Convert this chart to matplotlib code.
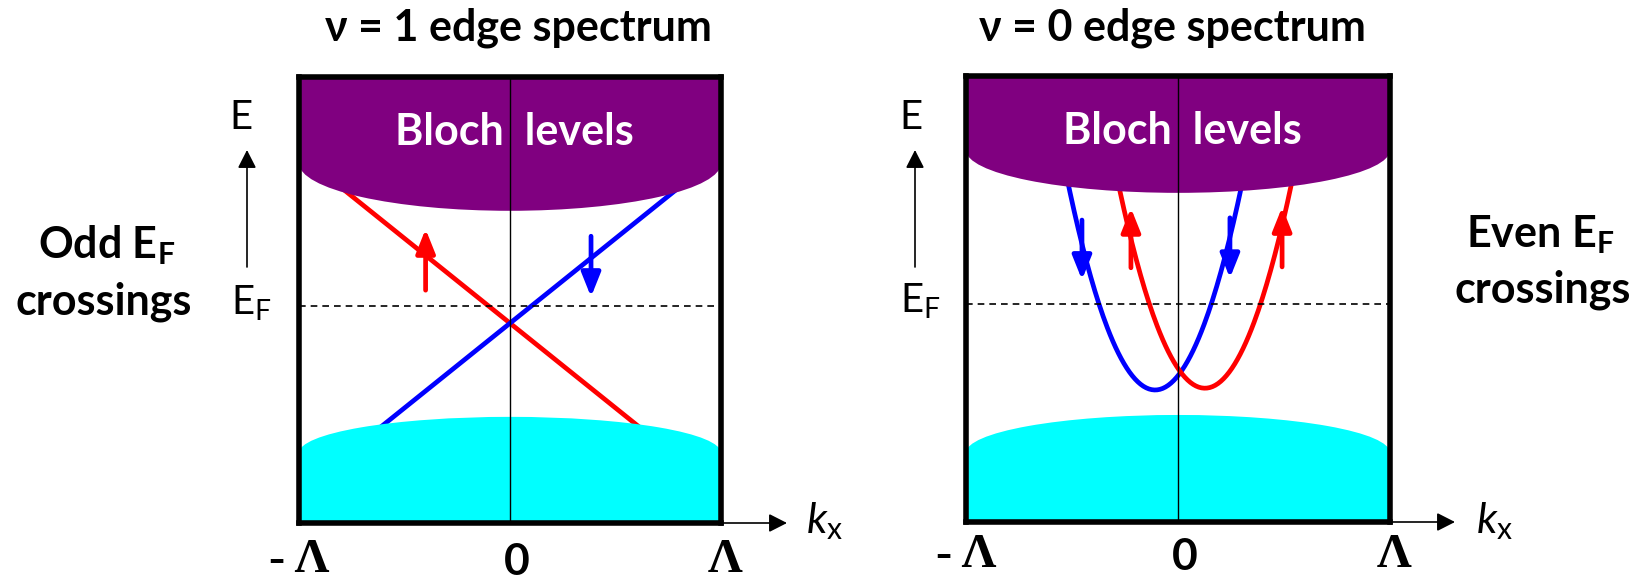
import numpy as np
import matplotlib
matplotlib.use("Agg")
import matplotlib.pyplot as plt
from matplotlib.patches import Rectangle, Ellipse
from matplotlib.transforms import blended_transform_factory

plt.rcParams['font.family'] = ['Lato', 'DejaVu Sans']
plt.rcParams['mathtext.fontset'] = 'custom'
plt.rcParams['mathtext.rm'] = 'Lato'
plt.rcParams['mathtext.it'] = 'Lato:italic'
plt.rcParams['mathtext.bf'] = 'Lato:bold'

# ---- data (k in units of Lambda, E in box-height units) ----
titles = ['\u03bd = 1 edge spectrum', '\u03bd = 0 edge spectrum']
side_top = [r'Odd E$_\mathbf{F}$', r'Even E$_\mathbf{F}$']
side_bottom = ['crossings', 'crossings']
tick_labels = ['- \u039b', '0', '\u039b']
tick_k = [-1, 0, 1]
e_fermi = [0.487, 0.489]

# Bloch (purple) band: flat-edge level and sag depth at k=0
bloch_edge = [0.807, 0.834]
bloch_sag = [0.107, 0.096]
# lower (cyan) band: edge level and bulge height at k=0
low_edge = [0.157, 0.155]
low_bulge = [0.081, 0.085]

# nu = 1 : linear chiral branches
lin_k = [-1.0, 1.0]
red_lin_E = [0.828, 0.068]
blue_lin_E = [0.068, 0.828]
# spin arrows (k, E_tail, E_tip, colour)
arrows_1 = [(-0.40, 0.522, 0.659, 'red'), (0.384, 0.643, 0.507, 'blue')]

# nu = 0 : two shifted parabolas (vertex k, vertex E, curvature)
blue_par = (-0.108, 0.296, 2.75)
red_par = (0.127, 0.300, 2.75)
arrows_0 = [(-0.453, 0.677, 0.543, 'blue'), (-0.222, 0.570, 0.704, 'red'),
            (0.245, 0.682, 0.547, 'blue'), (0.491, 0.572, 0.706, 'red')]

W, H = 1641, 583


def fx(x):
    return x / W


def fy(y):
    return 1 - y / H


fig = plt.figure(figsize=(W / 100, H / 100), dpi=100)

boxes = [(299, 721, 77, 523), (966, 1390, 76, 522)]
axes = []
for i, (x0, x1, y0, y1) in enumerate(boxes):
    ax = fig.add_axes([fx(x0), fy(y1), (x1 - x0) / W, (y1 - y0) / H])
    ax.set_xlim(-1, 1)
    ax.set_ylim(0, 1)
    ax.set_xticks([])
    ax.set_yticks([])
    for s in ax.spines.values():
        s.set_linewidth(4)
        s.set_zorder(6)
    # purple Bloch levels
    ax.add_patch(Rectangle((-1, bloch_edge[i]), 2, 1 - bloch_edge[i], color='#800080', lw=0, zorder=2))
    ax.add_patch(Ellipse((0, bloch_edge[i]), 2, 2 * bloch_sag[i], color='#800080', lw=0, zorder=2))
    # cyan lower levels
    ax.add_patch(Rectangle((-1, 0), 2, low_edge[i], color='#00FFFF', lw=0, zorder=2))
    ax.add_patch(Ellipse((0, low_edge[i]), 2, 2 * low_bulge[i], color='#00FFFF', lw=0, zorder=2))
    ax.axvline(0, color='black', lw=1.0, zorder=3)
    ax.axhline(e_fermi[i], color='black', lw=1.2, ls=(0, (4, 3)), zorder=3)
    ax.text(0.02, 0.848, 'Bloch  levels', color='white', fontsize=31,
            fontweight='bold', ha='center', va='baseline', zorder=5)
    axes.append(ax)

ax1, ax0 = axes

# nu = 1 branches
ax1.plot(lin_k, red_lin_E, color='red', lw=3.4, zorder=1, solid_capstyle='butt')
ax1.plot(lin_k, blue_lin_E, color='blue', lw=3.4, zorder=1, solid_capstyle='butt')

# nu = 0 parabolas
for (k0, e0, a), c in [(blue_par, 'blue'), (red_par, 'red')]:
    kk = np.linspace(k0 - 0.65, k0 + 0.65, 200)
    ax0.plot(kk, e0 + a * (kk - k0) ** 2, color=c, lw=3.4, zorder=1)

for ax, arrs in [(ax1, arrows_1), (ax0, arrows_0)]:
    for k, e_tail, e_tip, c in arrs:
        ax.annotate('', xy=(k, e_tip), xytext=(k, e_tail),
                    arrowprops=dict(arrowstyle='-|>,head_length=0.45,head_width=0.18',
                                    mutation_scale=32, color=c, lw=3.4,
                                    shrinkA=0, shrinkB=0), zorder=4)

# titles
fig.text(fx(518), fy(40), titles[0], fontsize=31, fontweight='bold', ha='center', va='baseline')
fig.text(fx(1172), fy(40), titles[1], fontsize=31, fontweight='bold', ha='center', va='baseline')

# energy axis labels
for ex, ax_x, ef_x, ef_y in [(241, 247, 231, 315), (911, 915, 900, 313)]:
    fig.text(fx(ex), fy(129), 'E', fontsize=29, ha='center', va='baseline')
    fig.text(fx(ef_x), fy(ef_y), r'E$_\mathrm{F}$', fontsize=29, ha='left', va='baseline')
    fig.add_artist(plt.Annotation('', xy=(fx(ax_x), fy(150)), xytext=(fx(ax_x), fy(267)),
                                  xycoords='figure fraction', textcoords='figure fraction',
                                  arrowprops=dict(arrowstyle='-|>,head_length=0.55,head_width=0.28',
                                                  mutation_scale=20, color='black', lw=1.2,
                                                  shrinkA=0, shrinkB=0)))

# k_x axis arrows and labels
for x0, x1, xt, yb in [(721, 787, 806, 523), (1390, 1455, 1476, 522)]:
    fig.add_artist(plt.Annotation('', xy=(fx(x1), fy(yb)), xytext=(fx(x0), fy(yb)),
                                  xycoords='figure fraction', textcoords='figure fraction',
                                  arrowprops=dict(arrowstyle='-|>,head_length=0.55,head_width=0.28',
                                                  mutation_scale=20, color='black', lw=1.2,
                                                  shrinkA=0, shrinkB=0)))
    fig.text(fx(xt), fy(533), r'$k_\mathrm{x}$', fontsize=31, ha='left', va='baseline')

# side labels
fig.text(fx(107), fy(258), side_top[0], fontsize=31, fontweight='bold', ha='center', va='baseline')
fig.text(fx(104), fy(315), side_bottom[0], fontsize=31, fontweight='bold', ha='center', va='baseline')
fig.text(fx(1540), fy(247), side_top[1], fontsize=31, fontweight='bold', ha='center', va='baseline')
fig.text(fx(1543), fy(302), side_bottom[1], fontsize=31, fontweight='bold', ha='center', va='baseline')

# k tick labels under each box
for ax, bottom in [(ax1, 582), (ax0, 577)]:
    tr = blended_transform_factory(ax.transData, fig.transFigure)
    for k, lab in zip(tick_k, tick_labels):
        if lab == '0':
            ax.text(k + 0.03, fy(bottom), lab, fontsize=32, fontweight='bold', ha='center',
                    va='bottom', transform=tr, clip_on=False)
        else:
            ax.text(k + (0.0 if k < 0 else 0.02), fy(bottom), lab, fontsize=35, fontweight='bold',
                    family='Liberation Serif', ha='center', va='bottom', transform=tr, clip_on=False)

fig.savefig('out.png', dpi=100)
